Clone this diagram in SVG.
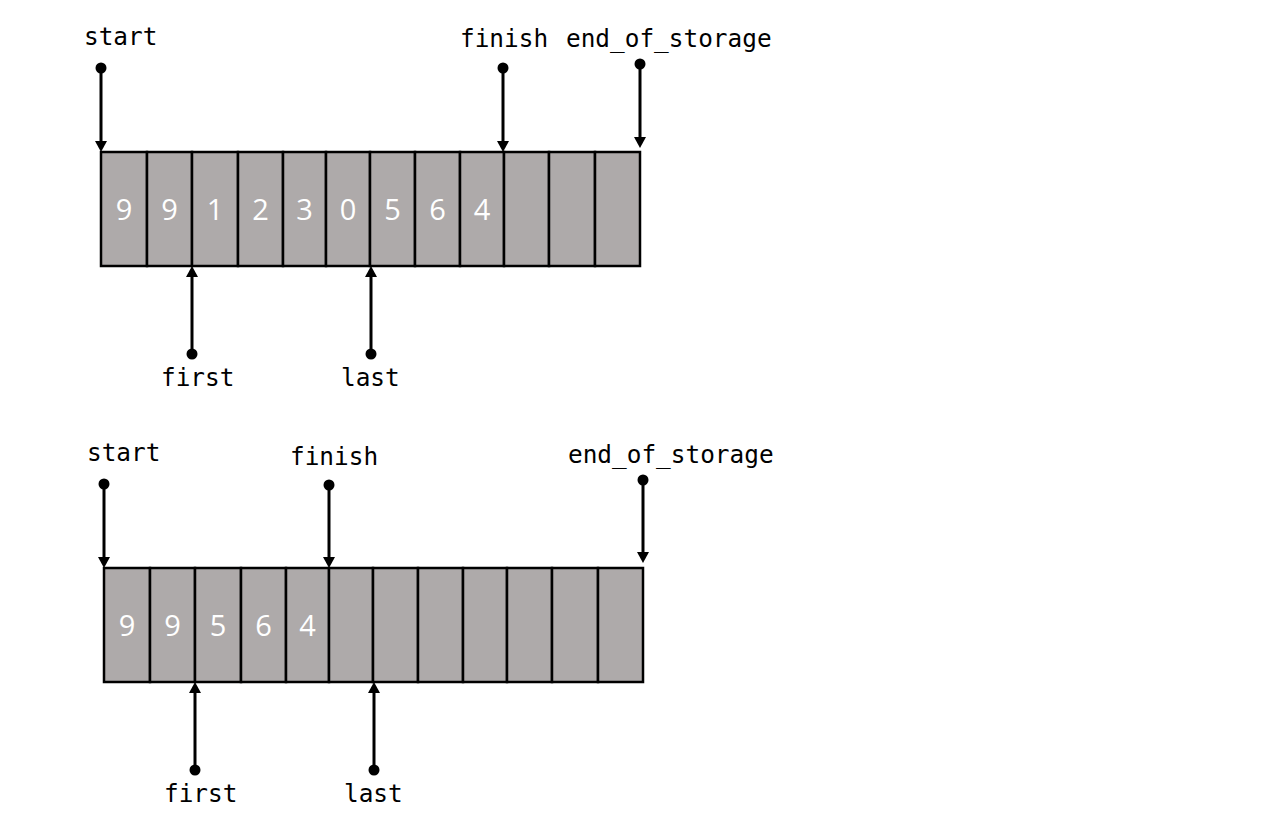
<svg xmlns="http://www.w3.org/2000/svg" width="1269" height="827" viewBox="0 0 1269 827">
<defs>
<style>
.cell{fill:#aeaaaa;stroke:#000;stroke-width:2.5}
.lbl{font-family:"DejaVu Sans Mono","Liberation Mono",monospace;font-size:24.4px;fill:#000}
.dig{font-family:"Open Sans","Noto Sans",sans-serif;font-size:29px;fill:#fff;text-anchor:middle}
.ptr{stroke:#000;stroke-width:3;fill:none;marker-start:url(#dot);marker-end:url(#head)}
</style>
<marker id="dot" markerUnits="userSpaceOnUse" markerWidth="12" markerHeight="12" refX="6" refY="6" orient="auto"><circle cx="6" cy="6" r="5.5" fill="#000"/></marker>
<marker id="head" markerUnits="userSpaceOnUse" markerWidth="12" markerHeight="13" refX="1" refY="6.5" orient="auto"><path d="M0,0.5 L11,6.5 L0,12.5 z" fill="#000"/></marker>
</defs>
<rect width="1269" height="827" fill="#fff"/>
<g id="array1">
<rect class="cell" x="101" y="152" width="46" height="114"/>
<rect class="cell" x="147" y="152" width="45" height="114"/>
<rect class="cell" x="192" y="152" width="46" height="114"/>
<rect class="cell" x="238" y="152" width="45" height="114"/>
<rect class="cell" x="283" y="152" width="43" height="114"/>
<rect class="cell" x="326" y="152" width="44" height="114"/>
<rect class="cell" x="370" y="152" width="45" height="114"/>
<rect class="cell" x="415" y="152" width="45" height="114"/>
<rect class="cell" x="460" y="152" width="44" height="114"/>
<rect class="cell" x="504" y="152" width="45" height="114"/>
<rect class="cell" x="549" y="152" width="46" height="114"/>
<rect class="cell" x="595" y="152" width="45" height="114"/>
<text class="dig" x="124" y="220">9</text>
<text class="dig" x="169.5" y="220">9</text>
<text class="dig" x="215" y="220">1</text>
<text class="dig" x="260.5" y="220">2</text>
<text class="dig" x="304.5" y="220">3</text>
<text class="dig" x="348" y="220">0</text>
<text class="dig" x="392.5" y="220">5</text>
<text class="dig" x="437.5" y="220">6</text>
<text class="dig" x="482" y="220">4</text>
</g>
<g id="array2">
<rect class="cell" x="104" y="568" width="46" height="114"/>
<rect class="cell" x="150" y="568" width="45" height="114"/>
<rect class="cell" x="195" y="568" width="46" height="114"/>
<rect class="cell" x="241" y="568" width="45" height="114"/>
<rect class="cell" x="286" y="568" width="43" height="114"/>
<rect class="cell" x="329" y="568" width="44" height="114"/>
<rect class="cell" x="373" y="568" width="45" height="114"/>
<rect class="cell" x="418" y="568" width="45" height="114"/>
<rect class="cell" x="463" y="568" width="44" height="114"/>
<rect class="cell" x="507" y="568" width="45" height="114"/>
<rect class="cell" x="552" y="568" width="46" height="114"/>
<rect class="cell" x="598" y="568" width="45" height="114"/>
<text class="dig" x="127" y="636">9</text>
<text class="dig" x="172.5" y="636">9</text>
<text class="dig" x="218" y="636">5</text>
<text class="dig" x="263.5" y="636">6</text>
<text class="dig" x="307.5" y="636">4</text>
</g>
<g id="labels1">
<text class="lbl" x="84" y="45">start</text>
<text class="lbl" x="460" y="47">finish</text>
<text class="lbl" x="566" y="47">end_of_storage</text>
<text class="lbl" x="161" y="386">first</text>
<text class="lbl" x="341" y="386">last</text>
</g>
<g id="labels2">
<text class="lbl" x="87" y="461">start</text>
<text class="lbl" x="290" y="465">finish</text>
<text class="lbl" x="568" y="463">end_of_storage</text>
<text class="lbl" x="164" y="802">first</text>
<text class="lbl" x="344" y="802">last</text>
</g>
<g id="connectors">
<line class="ptr" x1="101" y1="68" x2="101" y2="142"/>
<line class="ptr" x1="503" y1="68" x2="503" y2="142"/>
<line class="ptr" x1="640" y1="64" x2="640" y2="138"/>
<line class="ptr" x1="192" y1="354" x2="192" y2="276"/>
<line class="ptr" x1="371" y1="354" x2="371" y2="276"/>
<line class="ptr" x1="104" y1="484" x2="104" y2="558"/>
<line class="ptr" x1="329" y1="485" x2="329" y2="558"/>
<line class="ptr" x1="643" y1="480" x2="643" y2="553"/>
<line class="ptr" x1="195" y1="770" x2="195" y2="692"/>
<line class="ptr" x1="374" y1="770" x2="374" y2="692"/>
</g>
</svg>
